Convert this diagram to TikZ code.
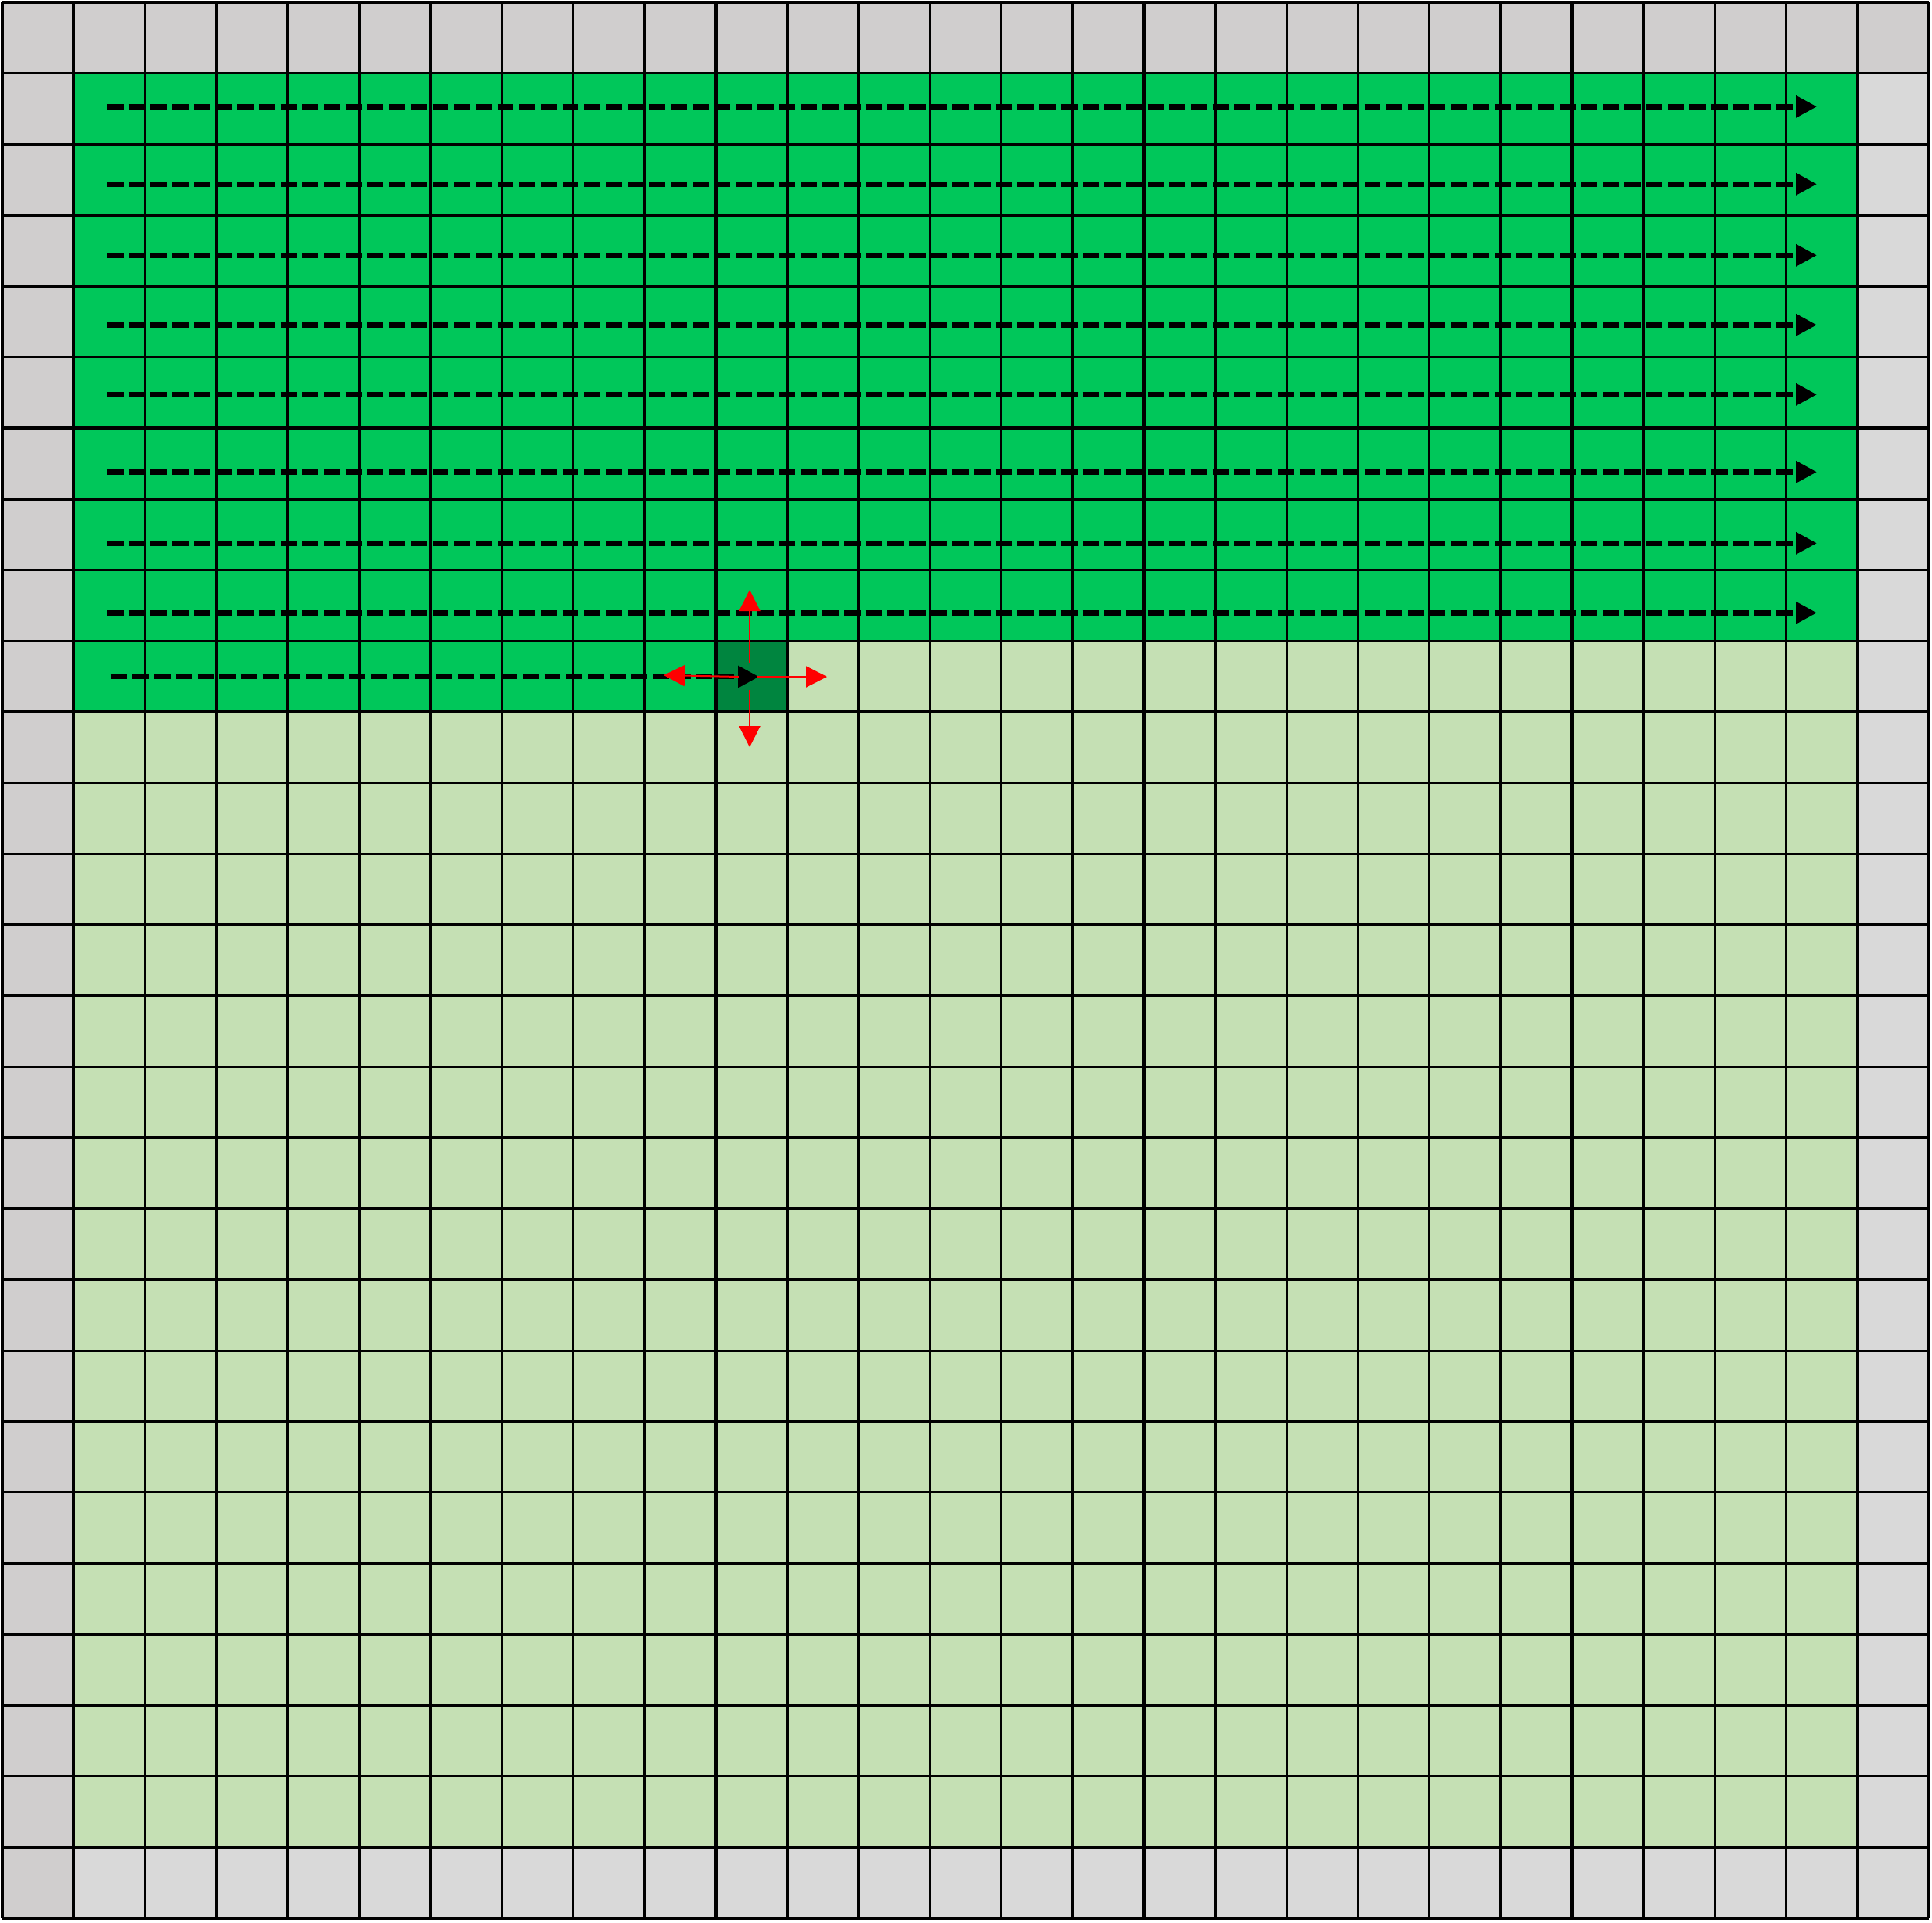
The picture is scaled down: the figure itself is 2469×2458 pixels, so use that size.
\documentclass[tikz,border=0pt]{standalone}
\usetikzlibrary{arrows.meta}
\definecolor{greyA}{HTML}{D0CECE}
\definecolor{greyB}{HTML}{D9D9D9}
\definecolor{gbright}{HTML}{00C75A}
\definecolor{gdark}{HTML}{00853F}
\definecolor{glight}{HTML}{C5E0B4}
\begin{document}
\begin{tikzpicture}[x=1pt,y=-1pt,
  gridline/.style={line width=3.5pt,black},
  scanarrow/.style={line width=6.5pt,black,dash pattern=on 20.7pt off 7pt,-{Triangle[length=27pt,width=27pt]}},
  moveline/.style={line width=2pt,red,-{Triangle[length=27pt,width=27pt]}}]
\useasboundingbox (0,0) rectangle (2469,2458);
\def\cw{91.185}
\def\ch{90.7}
% cell fills
\fill[greyA] (3,3) rectangle (2465,2452);
\fill[greyB] ({3+26*\cw},{3+\ch}) rectangle (2465,2452);
\fill[greyB] ({3+\cw},{3+26*\ch}) rectangle (2465,2452);
\fill[glight] ({3+\cw},{3+\ch}) rectangle ({3+26*\cw},{3+26*\ch});
\fill[gbright] ({3+\cw},{3+\ch}) rectangle ({3+26*\cw},{3+9*\ch});
\fill[gbright] ({3+\cw},{3+9*\ch}) rectangle ({3+10*\cw},{3+10*\ch});
\fill[gdark] ({3+10*\cw},{3+9*\ch}) rectangle ({3+11*\cw},{3+10*\ch});
% grid
\foreach \i in {0,...,27}{
  \draw[gridline] ({3+\i*\cw},3) -- ({3+\i*\cw},2452);
  \draw[gridline] (3,{3+\i*\ch}) -- (2465,{3+\i*\ch});
}
% scan arrows
\foreach \y [count=\k] in {136.3,235.3,326.3,415.3,504.3,603.3,694.3,783.3}{
  \coordinate (s\k) at (137,\y);
  \coordinate (e\k) at (2322,\y);
  \draw[scanarrow] (s\k) -- (e\k);
}
\coordinate (s9) at (141.7,865);
\coordinate (e9) at (970,865);
\draw[scanarrow] (s9) -- (e9);
% neighbour moves
\coordinate (upS) at (958,847);
\coordinate (upE) at (958,754);
\coordinate (dnS) at (958,882);
\coordinate (dnE) at (958,955);
\coordinate (rtS) at (968,865);
\coordinate (rtE) at (1057,865);
\coordinate (lfS) at (944,865);
\coordinate (lfE) at (848,863);
\draw[moveline] (upS) -- (upE);
\draw[moveline] (dnS) -- (dnE);
\draw[moveline] (rtS) -- (rtE);
\draw[moveline] (lfS) -- (lfE);
\end{tikzpicture}
\end{document}
